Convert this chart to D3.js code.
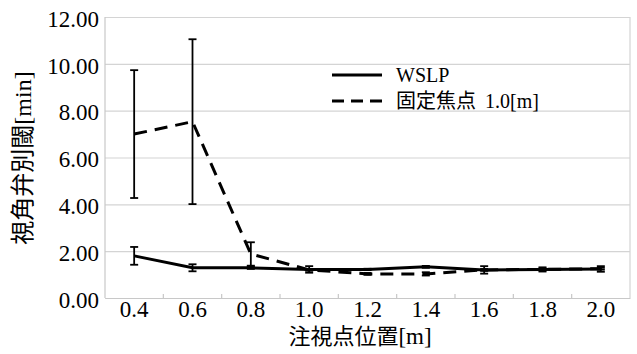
<!DOCTYPE html>
<html>
<head>
<meta charset="utf-8">
<script src="https://cdn.jsdelivr.net/npm/d3@7"></script>
<style>
  body { margin: 0; background: #fff; }
  svg { display: block; }
</style>
</head>
<body>
<div id="chart"></div>
<script>
var positions = ["0.4", "0.6", "0.8", "1.0", "1.2", "1.4", "1.6", "1.8", "2.0"];
var wslpMean = [1.80, 1.29, 1.29, 1.22, 1.22, 1.33, 1.20, 1.22, 1.24];
var wslpErr  = [0.38, 0.15, 0.05, 0.14, 0.03, 0.04, 0.16, 0.09, 0.12];
var fixedMean = [7.00, 7.53, 1.88, 1.20, 1.03, 1.03, 1.20, 1.22, 1.25];
var fixedErr  = [2.73, 3.52, 0.50, 0.04, 0.04, 0.07, 0.04, 0.04, 0.04];
var yTicks = [0, 2, 4, 6, 8, 10, 12];

var width = 637, height = 354;
var margin = {top: 17, right: 7, bottom: 56, left: 105};
var w = width - margin.left - margin.right,
    h = height - margin.top - margin.bottom;

var serif = "Liberation Serif",
    jp = "Noto Sans CJK JP";

var svg = d3.select("#chart").append("svg")
    .attr("width", width)
    .attr("height", height);

var g = svg.append("g")
    .attr("transform", "translate(" + margin.left + "," + margin.top + ")");

var x = d3.scaleBand().domain(positions).range([0, w]).padding(0);
var y = d3.scaleLinear().domain([0, 12]).range([h, 0]);

// grid + y labels
var yaxis = g.append("g")
    .call(d3.axisLeft(y).tickValues(yTicks).tickSize(-w).tickPadding(6).tickFormat(d3.format(".2f")))
    .attr("font-family", serif)
    .attr("font-size", 23);
yaxis.select(".domain").remove();
yaxis.selectAll(".tick line").attr("stroke", "#d4d4d4").attr("stroke-width", 1.2);
yaxis.selectAll(".tick text")
  .attr("fill", "#000")
  .attr("dy", "0.4em");

// frame lines
g.append("line").attr("x1", 0).attr("x2", 0).attr("y1", 0).attr("y2", h)
  .attr("stroke", "#c8c8c8").attr("stroke-width", 1.2);
g.append("line").attr("x1", w).attr("x2", w).attr("y1", 0).attr("y2", h)
  .attr("stroke", "#d4d4d4").attr("stroke-width", 1.2);

// x axis
var xaxis = g.append("g")
    .attr("transform", "translate(0," + h + ")")
    .call(d3.axisBottom(x).tickSize(0).tickPadding(3))
    .attr("font-family", serif)
    .attr("font-size", 23);
xaxis.select(".domain").attr("stroke", "#c8c8c8").attr("stroke-width", 1.2);
xaxis.selectAll(".tick text")
  .attr("fill", "#000")
  .attr("dy", "0.68em");

// inner ticks at category boundaries
g.selectAll(".btick").data(positions.slice(1))
  .enter().append("line")
  .attr("class", "btick")
  .attr("x1", function (d) { return x(d); })
  .attr("x2", function (d) { return x(d); })
  .attr("y1", h - 4).attr("y2", h)
  .attr("stroke", "#c8c8c8").attr("stroke-width", 1.2);

var cx = function (d, i) { return x(positions[i]) + x.bandwidth() / 2; };

var line = d3.line()
    .x(function (d, i) { return cx(d, i); })
    .y(function (d) { return y(d); });

function errorBars (means, errs) {
  var eg = g.append("g");
  var cap = 4;
  means.forEach(function (m, i) {
    var px = cx(m, i);
    var t = y(m + errs[i]), b = y(m - errs[i]);
    eg.append("line").attr("x1", px).attr("x2", px).attr("y1", t).attr("y2", b)
      .attr("stroke", "#000").attr("stroke-width", 1.8);
    eg.append("line").attr("x1", px - cap).attr("x2", px + cap).attr("y1", t).attr("y2", t)
      .attr("stroke", "#000").attr("stroke-width", 1.8);
    eg.append("line").attr("x1", px - cap).attr("x2", px + cap).attr("y1", b).attr("y2", b)
      .attr("stroke", "#000").attr("stroke-width", 1.8);
  });
}

g.append("path")
  .attr("d", line(fixedMean))
  .attr("fill", "none")
  .attr("stroke", "#000")
  .attr("stroke-width", 3)
  .attr("stroke-dasharray", "13,8");

g.append("path")
  .attr("d", line(wslpMean))
  .attr("fill", "none")
  .attr("stroke", "#000")
  .attr("stroke-width", 3);

errorBars(fixedMean, fixedErr);
errorBars(wslpMean, wslpErr);

// legend
var legend = svg.append("g").attr("transform", "translate(332,75)");
legend.append("line").attr("x1", 0).attr("x2", 50).attr("y1", 0).attr("y2", 0)
  .attr("stroke", "#000").attr("stroke-width", 3);
legend.append("text").attr("x", 64).attr("y", 7)
  .attr("font-family", serif).attr("font-size", 20)
  .text("WSLP");
legend.append("line").attr("x1", 0).attr("x2", 50).attr("y1", 26).attr("y2", 26)
  .attr("stroke", "#000").attr("stroke-width", 3).attr("stroke-dasharray", "12,7");
var lt = legend.append("text").attr("x", 64).attr("y", 33).attr("font-size", 20);
lt.append("tspan").attr("font-family", jp).text("固定焦点");
lt.append("tspan").attr("font-family", serif).attr("dx", 9).text("1.0[m]");

// axis titles
var xt = svg.append("text")
  .attr("x", 360)
  .attr("y", 344)
  .attr("text-anchor", "middle")
  .attr("font-family", serif + ", " + jp)
  .attr("font-size", 23);
xt.append("tspan").attr("font-family", jp).attr("font-size", 22).text("注視点位置");
xt.append("tspan").text("[m]");

var yt = svg.append("text")
  .attr("transform", "translate(31,158) rotate(-90)")
  .attr("text-anchor", "middle")
  .attr("font-size", 24);
yt.append("tspan").attr("font-family", jp).text("視角弁別閾");
yt.append("tspan").attr("font-family", serif).text("[min]");
</script>
</body>
</html>
